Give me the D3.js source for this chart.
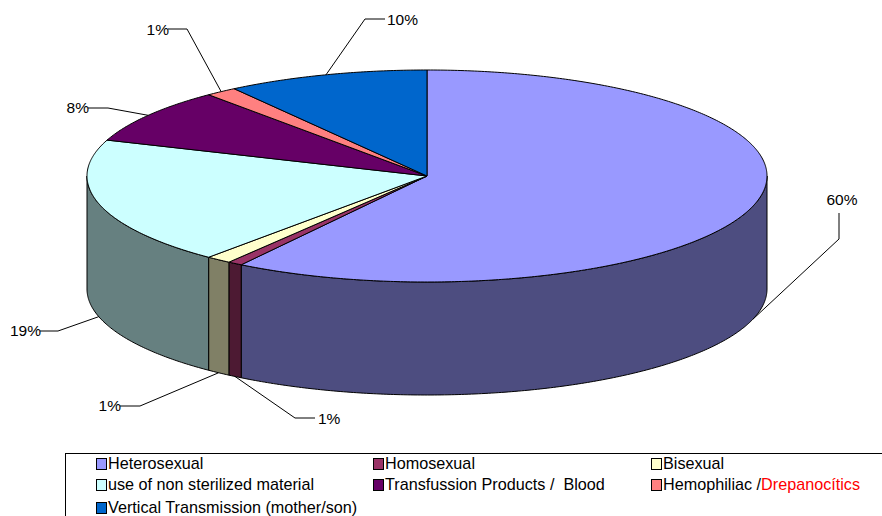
<!DOCTYPE html>
<html>
<head>
<meta charset="utf-8">
<script src="https://cdn.jsdelivr.net/npm/d3@7"></script>
<style>
  html, body { margin: 0; padding: 0; background: #fff; }
  svg { display: block; }
  text { font-family: "Liberation Sans", Arial, sans-serif; font-size: 15.5px; fill: #000; white-space: pre; }
  .legend-label { font-size: 16.2px; }
  .edge { stroke: #000; stroke-width: 1; stroke-linejoin: round; }
  .leader { fill: none; stroke: #000; stroke-width: 1; }
</style>
</head>
<body>
<div id="chart"></div>
<script>
const categories = ["Heterosexual", "Homosexual", "Bisexual", "use of non sterilized material",
                    "Transfussion Products /  Blood", "Hemophiliac /", "Vertical Transmission (mother/son)"];
const categorySuffix = ["", "", "", "", "", "Drepanocítics", ""];
const shares = [59.2, 0.7, 1.2, 19.4, 8.4, 1.5, 9.6];
const shareLabels = ["60%", "1%", "1%", "19%", "8%", "1%", "10%"];
const topColors = ["#9999ff", "#993366", "#ffffcc", "#ccffff", "#660066", "#ff8080", "#0066cc"];
const sideColors = ["#4d4d80", "#4d1a33", "#808066", "#668080", "#330033", "#804040", "#003366"];

const width = 882;
const height = 516;
const pieBox = {left: 87, right: 767, top: 70, bottom: 282};
const depth = 113;

// where each leader bends and where its label sits
const leaderLayout = [
    {bend: [[839, 239], [839, 213]], label: [842, 205], anchor: "middle"},
    {bend: [[295, 418], [315, 418]], label: [318, 424], anchor: "start"},
    {bend: [[140, 406], [120, 406]], label: [121, 411], anchor: "end"},
    {bend: [[58, 331], [40, 331]], label: [41, 336], anchor: "end"},
    {bend: [[108, 108], [88, 108]], label: [89, 113], anchor: "end"},
    {bend: [[187, 29], [168, 29]], label: [169, 35], anchor: "end"},
    {bend: [[365, 19], [385, 19]], label: [387, 25], anchor: "start"}
];

const legendLeft = 65;
const legendTop = 453;
const legendCols = [96, 373, 651];
const legendRows = [464, 485, 508];

const svg = d3.select("#chart").append("svg")
    .attr("width", width)
    .attr("height", height)
    .attr("viewBox", `0 0 ${width} ${height}`);

const x = d3.scaleLinear().domain([-1, 1]).range([pieBox.left, pieBox.right]);
const y = d3.scaleLinear().domain([-1, 1]).range([pieBox.top, pieBox.bottom]);

const pie = d3.pie().sort(null).value(d => d);
const slices = pie(shares);

const pointAt = (a, drop = 0) => [x(Math.sin(a)), y(-Math.cos(a)) + drop];

function arcPoints(a0, a1, drop) {
    const steps = Math.max(2, Math.ceil((a1 - a0) / 0.01));
    return d3.range(steps + 1).map(i => pointAt(a0 + (a1 - a0) * i / steps, drop));
}

const line = d3.line();

// front wall, only the part of each slice between 3 and 9 o'clock shows
const walls = svg.append("g");
slices.forEach((s, i) => {
    const a0 = Math.max(s.startAngle, Math.PI / 2);
    const a1 = Math.min(s.endAngle, Math.PI * 1.5);
    if (a1 <= a0) return;
    const pts = arcPoints(a0, a1, 0).concat(arcPoints(a0, a1, depth).reverse());
    walls.append("path")
        .attr("class", "edge")
        .attr("fill", sideColors[i])
        .attr("d", line(pts) + "Z");
});

// top face
const center = [x(0), y(0)];
svg.append("g").selectAll("path")
    .data(slices)
    .join("path")
    .attr("class", "edge")
    .attr("fill", (d, i) => topColors[i])
    .attr("d", d => line([center].concat(arcPoints(d.startAngle, d.endAngle, 0))) + "Z");

// leaders start on the rim at the middle of the slice
const leaders = svg.append("g");
slices.forEach((s, i) => {
    const mid = (s.startAngle + s.endAngle) / 2;
    const front = mid > Math.PI / 2 && mid < Math.PI * 1.5;
    const layout = leaderLayout[i];
    leaders.append("path")
        .attr("class", "leader")
        .attr("d", line([pointAt(mid, front ? depth : 0)].concat(layout.bend)));
    leaders.append("text")
        .attr("x", layout.label[0])
        .attr("y", layout.label[1])
        .attr("text-anchor", layout.anchor)
        .text(shareLabels[i]);
});

// legend box runs off the right and bottom of the picture
svg.append("rect")
    .attr("x", legendLeft + 0.5)
    .attr("y", legendTop + 0.5)
    .attr("width", width)
    .attr("height", height)
    .attr("fill", "none")
    .attr("stroke", "#000");

const legend = svg.append("g");
categories.forEach((name, i) => {
    const cx = legendCols[i % 3];
    const cy = legendRows[Math.floor(i / 3)];
    legend.append("rect")
        .attr("x", cx + 0.5)
        .attr("y", cy - 5.5)
        .attr("width", 10)
        .attr("height", 11)
        .attr("fill", topColors[i])
        .attr("stroke", "#000");
    const label = legend.append("text")
        .attr("class", "legend-label")
        .attr("x", cx + 12)
        .attr("y", cy + 5);
    label.append("tspan").text(name);
    if (categorySuffix[i]) {
        label.append("tspan").style("fill", "#ff0000").text(categorySuffix[i]);
    }
});
</script>
</body>
</html>
